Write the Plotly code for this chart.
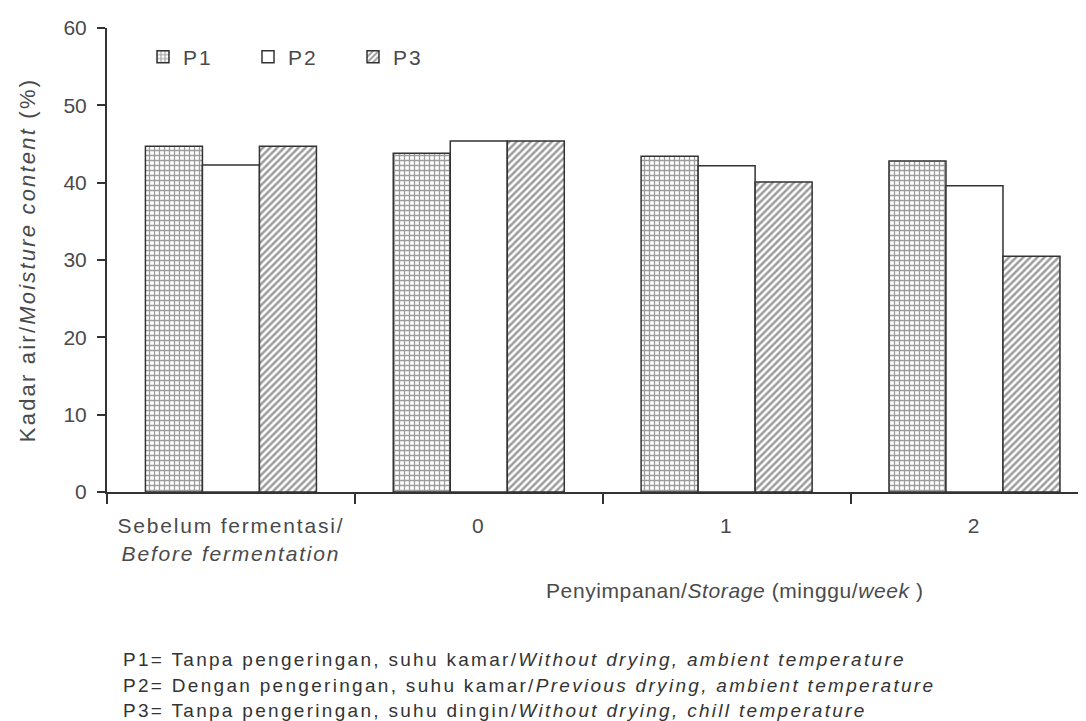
import plotly.graph_objects as go

categories = ["Sebelum fermentasi/", "0", "1", "2"]
category_line2 = ["<i>Before fermentation</i>", "", "", ""]
series_names = ["P1", "P2", "P3"]
p1 = [44.7, 43.8, 43.4, 42.8]
p2 = [42.3, 45.4, 42.2, 39.6]
p3 = [44.7, 45.4, 40.1, 30.5]
y_ticks = [0, 10, 20, 30, 40, 50, 60]

notes = [
    "P1= Tanpa pengeringan, suhu kamar/<i>Without drying, ambient temperature</i>",
    "P2= Dengan pengeringan, suhu kamar/<i>Previous drying, ambient temperature</i>",
    "P3= Tanpa pengeringan, suhu dingin/<i>Without drying, chill temperature</i>",
]

# page body has an 8px margin: compensate so the plot lands where the reference has it
OFF = 8
PAGE_W, PAGE_H = 1086, 721
W, H = PAGE_W - OFF, PAGE_H - OFF
PL, PT, PB, PR = 107, 28, 492, 1086  # plot area in page pixels
L, T = PL - OFF, PT - OFF
B = H - (PB - OFF)
R = W - (PR - OFF)
PW, PH = PR - PL, PB - PT


def px(x):
    return (x - PL) / PW


def py(y):
    return (PB - y) / PH


def spaced(text, ls):
    return f'<span style="letter-spacing:{ls}px">{text}</span>'


FONT = "Liberation Sans, Arial, sans-serif"
TXT = "#4a4a4a"
LINE = "#333333"

tick_text = []
for a, b in zip(categories, category_line2):
    t = spaced(a, 1.8)
    if b:
        t += "<br>" + spaced(b, 1.8)
    tick_text.append(t)

fig = go.Figure()
styles = [
    dict(shape="+", size=5, solidity=0.45),
    dict(shape="", size=5, solidity=0.3),
    dict(shape="/", size=5, solidity=0.5),
]
for name, vals, st in zip(series_names, [p1, p2, p3], styles):
    fig.add_trace(go.Bar(
        x=categories, y=vals, name=spaced(name, 2),
        marker=dict(color="white",
                    line=dict(color=LINE, width=1.5),
                    pattern=dict(shape=st["shape"], fgcolor="#3a3a3a", bgcolor="white",
                                 size=st["size"], solidity=st["solidity"])),
    ))

fig.update_layout(
    width=W, height=H,
    margin=dict(l=L, r=R, t=T, b=B, pad=0),
    paper_bgcolor="white", plot_bgcolor="white",
    barmode="group", bargap=0.31, bargroupgap=0,
    font=dict(family=FONT, size=21, color=TXT),
    showlegend=True,
    legend=dict(orientation="h", x=px(143), y=py(57), xanchor="left", yanchor="middle",
                font=dict(size=21, color=TXT), entrywidth=60, entrywidthmode="pixels",
                bgcolor="rgba(0,0,0,0)", itemwidth=30),
    xaxis=dict(type="category", range=[-0.5, 3.45], showline=True, linecolor=LINE, linewidth=2,
               ticks="outside", tickson="boundaries", ticklen=10, tickwidth=2, tickcolor=LINE,
               tickvals=categories, ticktext=tick_text,
               ticklabelstandoff=14, showgrid=False, zeroline=False,
               tickfont=dict(size=21, color=TXT)),
    yaxis=dict(range=[0, 60], tickvals=y_ticks, showline=True, linecolor=LINE, linewidth=2,
               ticks="outside", ticklen=8, tickwidth=2, tickcolor=LINE, showgrid=False,
               zeroline=False, ticklabelstandoff=6, tickfont=dict(size=21, color=TXT),
               title=dict(text=spaced("Kadar air/<i>Moisture content</i> (%)", 2.2), standoff=22,
                          font=dict(size=22, color=TXT))),
)

fig.add_annotation(x=px(735), y=py(590), xref="paper", yref="paper",
                   text=spaced("Penyimpanan/<i>Storage</i> (minggu/<i>week</i> )", 0.6),
                   showarrow=False, font=dict(size=21, color=TXT), xanchor="center", yanchor="middle")

for t, yy in zip(notes, [659, 685, 710]):
    fig.add_annotation(x=px(121), y=py(yy), xref="paper", yref="paper", text=spaced(t, 2.3),
                       showarrow=False, font=dict(size=19, color="#333333"),
                       xanchor="left", yanchor="middle")

fig.write_html("out.html")
